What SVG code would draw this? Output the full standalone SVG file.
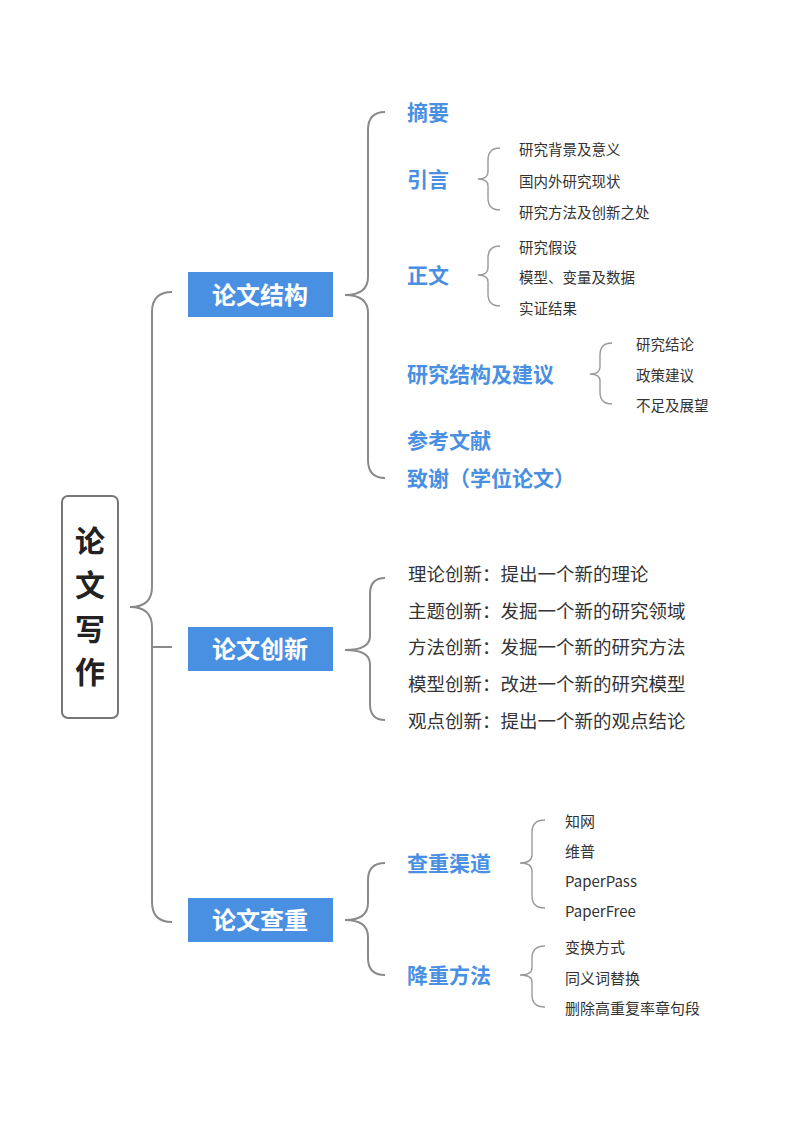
<svg xmlns="http://www.w3.org/2000/svg" width="800" height="1130" viewBox="0 0 800 1130">
<style>
text{font-family:"Noto Sans CJK SC","Liberation Sans",sans-serif;dominant-baseline:central}
.c{fill:none;stroke:#8a8a8a;stroke-width:2}
.cs{fill:none;stroke:#9a9a9a;stroke-width:1.4}
.nb{fill:#4a90e2}
.nt{fill:#fff;font-size:24px;font-weight:bold;text-anchor:middle}
.b{fill:#4a90e2;font-size:21px;font-weight:bold}
.s{fill:#333;font-size:14.5px}
.m{fill:#333;font-size:18.5px}
.p{fill:#333;font-size:15px}
</style>
<rect width="800" height="1130" fill="#fff"/>
<g id="connectors">
<path class="c" d="M172 292 Q152 292 152 312 L152 587 Q152 607 130 607 Q152 607 152 627 L152 902 Q152 922 172 922"/>
<path class="c" d="M152 647 L172 647"/>
<path class="c" d="M385 112 Q368 112 368 130 L368 277 Q368 295 345 295 Q368 295 368 313 L368 460 Q368 478 385 478"/>
<path class="cs" d="M500 148 Q488 148 488 160 L488 172 Q488 179 478 179 Q488 179 488 186 L488 198 Q488 210 500 210"/>
<path class="cs" d="M500 246 Q488 246 488 258 L488 268 Q488 275 478 275 Q488 275 488 282 L488 294 Q488 306 500 306"/>
<path class="cs" d="M612 343 Q600 343 600 355 L600 367 Q600 374 590 374 Q600 374 600 381 L600 392 Q600 404 612 404"/>
<path class="c" d="M385 578 Q370 578 370 594 L370 636 Q370 650 345 650 Q370 650 370 664 L370 704 Q370 720 385 720"/>
<path class="c" d="M385 863 Q368 863 368 880 L368 903 Q368 920 345 920 Q368 920 368 937 L368 958 Q368 975 385 975"/>
<path class="cs" d="M545 820 Q532 820 532 832 L532 855 Q532 863 520 863 Q532 863 532 871 L532 896 Q532 908 545 908"/>
<path class="cs" d="M545 946 Q532 946 532 958 L532 968 Q532 975 520 975 Q532 975 532 982 L532 995 Q532 1007 545 1007"/>
</g>
<g id="root"><rect x="62" y="496" width="56" height="222" rx="6" fill="#fff" stroke="#777" stroke-width="2"/>
<text x="90" y="539" font-size="30" font-weight="bold" fill="#222" text-anchor="middle">论</text>
<text x="90" y="583" font-size="30" font-weight="bold" fill="#222" text-anchor="middle">文</text>
<text x="90" y="627" font-size="30" font-weight="bold" fill="#222" text-anchor="middle">写</text>
<text x="90" y="670" font-size="30" font-weight="bold" fill="#222" text-anchor="middle">作</text></g>
<g id="n1"><rect class="nb" x="188" y="272" width="145" height="45"/><text class="nt" x="260" y="293">论文结构</text></g>
<g id="n2"><rect class="nb" x="188" y="627" width="145" height="44"/><text class="nt" x="260" y="647">论文创新</text></g>
<g id="n3"><rect class="nb" x="188" y="898" width="145" height="44"/><text class="nt" x="260" y="918">论文查重</text></g>
<g id="structure">
<text class="b" x="407" y="111">摘要</text>
<text class="b" x="407" y="178">引言</text>
<text class="s" x="519" y="148">研究背景及意义</text>
<text class="s" x="519" y="180">国内外研究现状</text>
<text class="s" x="519" y="211">研究方法及创新之处</text>
<text class="b" x="407" y="274">正文</text>
<text class="s" x="519" y="246">研究假设</text>
<text class="s" x="519" y="276">模型、变量及数据</text>
<text class="s" x="519" y="307">实证结果</text>
<text class="b" x="407" y="373">研究结构及建议</text>
<text class="s" x="636" y="343">研究结论</text>
<text class="s" x="636" y="374">政策建议</text>
<text class="s" x="636" y="404">不足及展望</text>
<text class="b" x="407" y="439">参考文献</text>
<text class="b" x="407" y="477">致谢（学位论文）</text>
</g>
<g id="innovation">
<text class="m" x="408" y="573">理论创新：提出一个新的理论</text>
<text class="m" x="408" y="610">主题创新：发掘一个新的研究领域</text>
<text class="m" x="408" y="646">方法创新：发掘一个新的研究方法</text>
<text class="m" x="408" y="683">模型创新：改进一个新的研究模型</text>
<text class="m" x="408" y="720">观点创新：提出一个新的观点结论</text>
</g>
<g id="check">
<text class="b" x="407" y="862">查重渠道</text>
<text class="p" x="565" y="820">知网</text>
<text class="p" x="565" y="850">维普</text>
<text class="p" x="565" y="880">PaperPass</text>
<text class="p" x="565" y="910">PaperFree</text>
<text class="b" x="407" y="974">降重方法</text>
<text class="p" x="565" y="946">变换方式</text>
<text class="p" x="565" y="977">同义词替换</text>
<text class="p" x="565" y="1007">删除高重复率章句段</text>
</g>
</svg>
